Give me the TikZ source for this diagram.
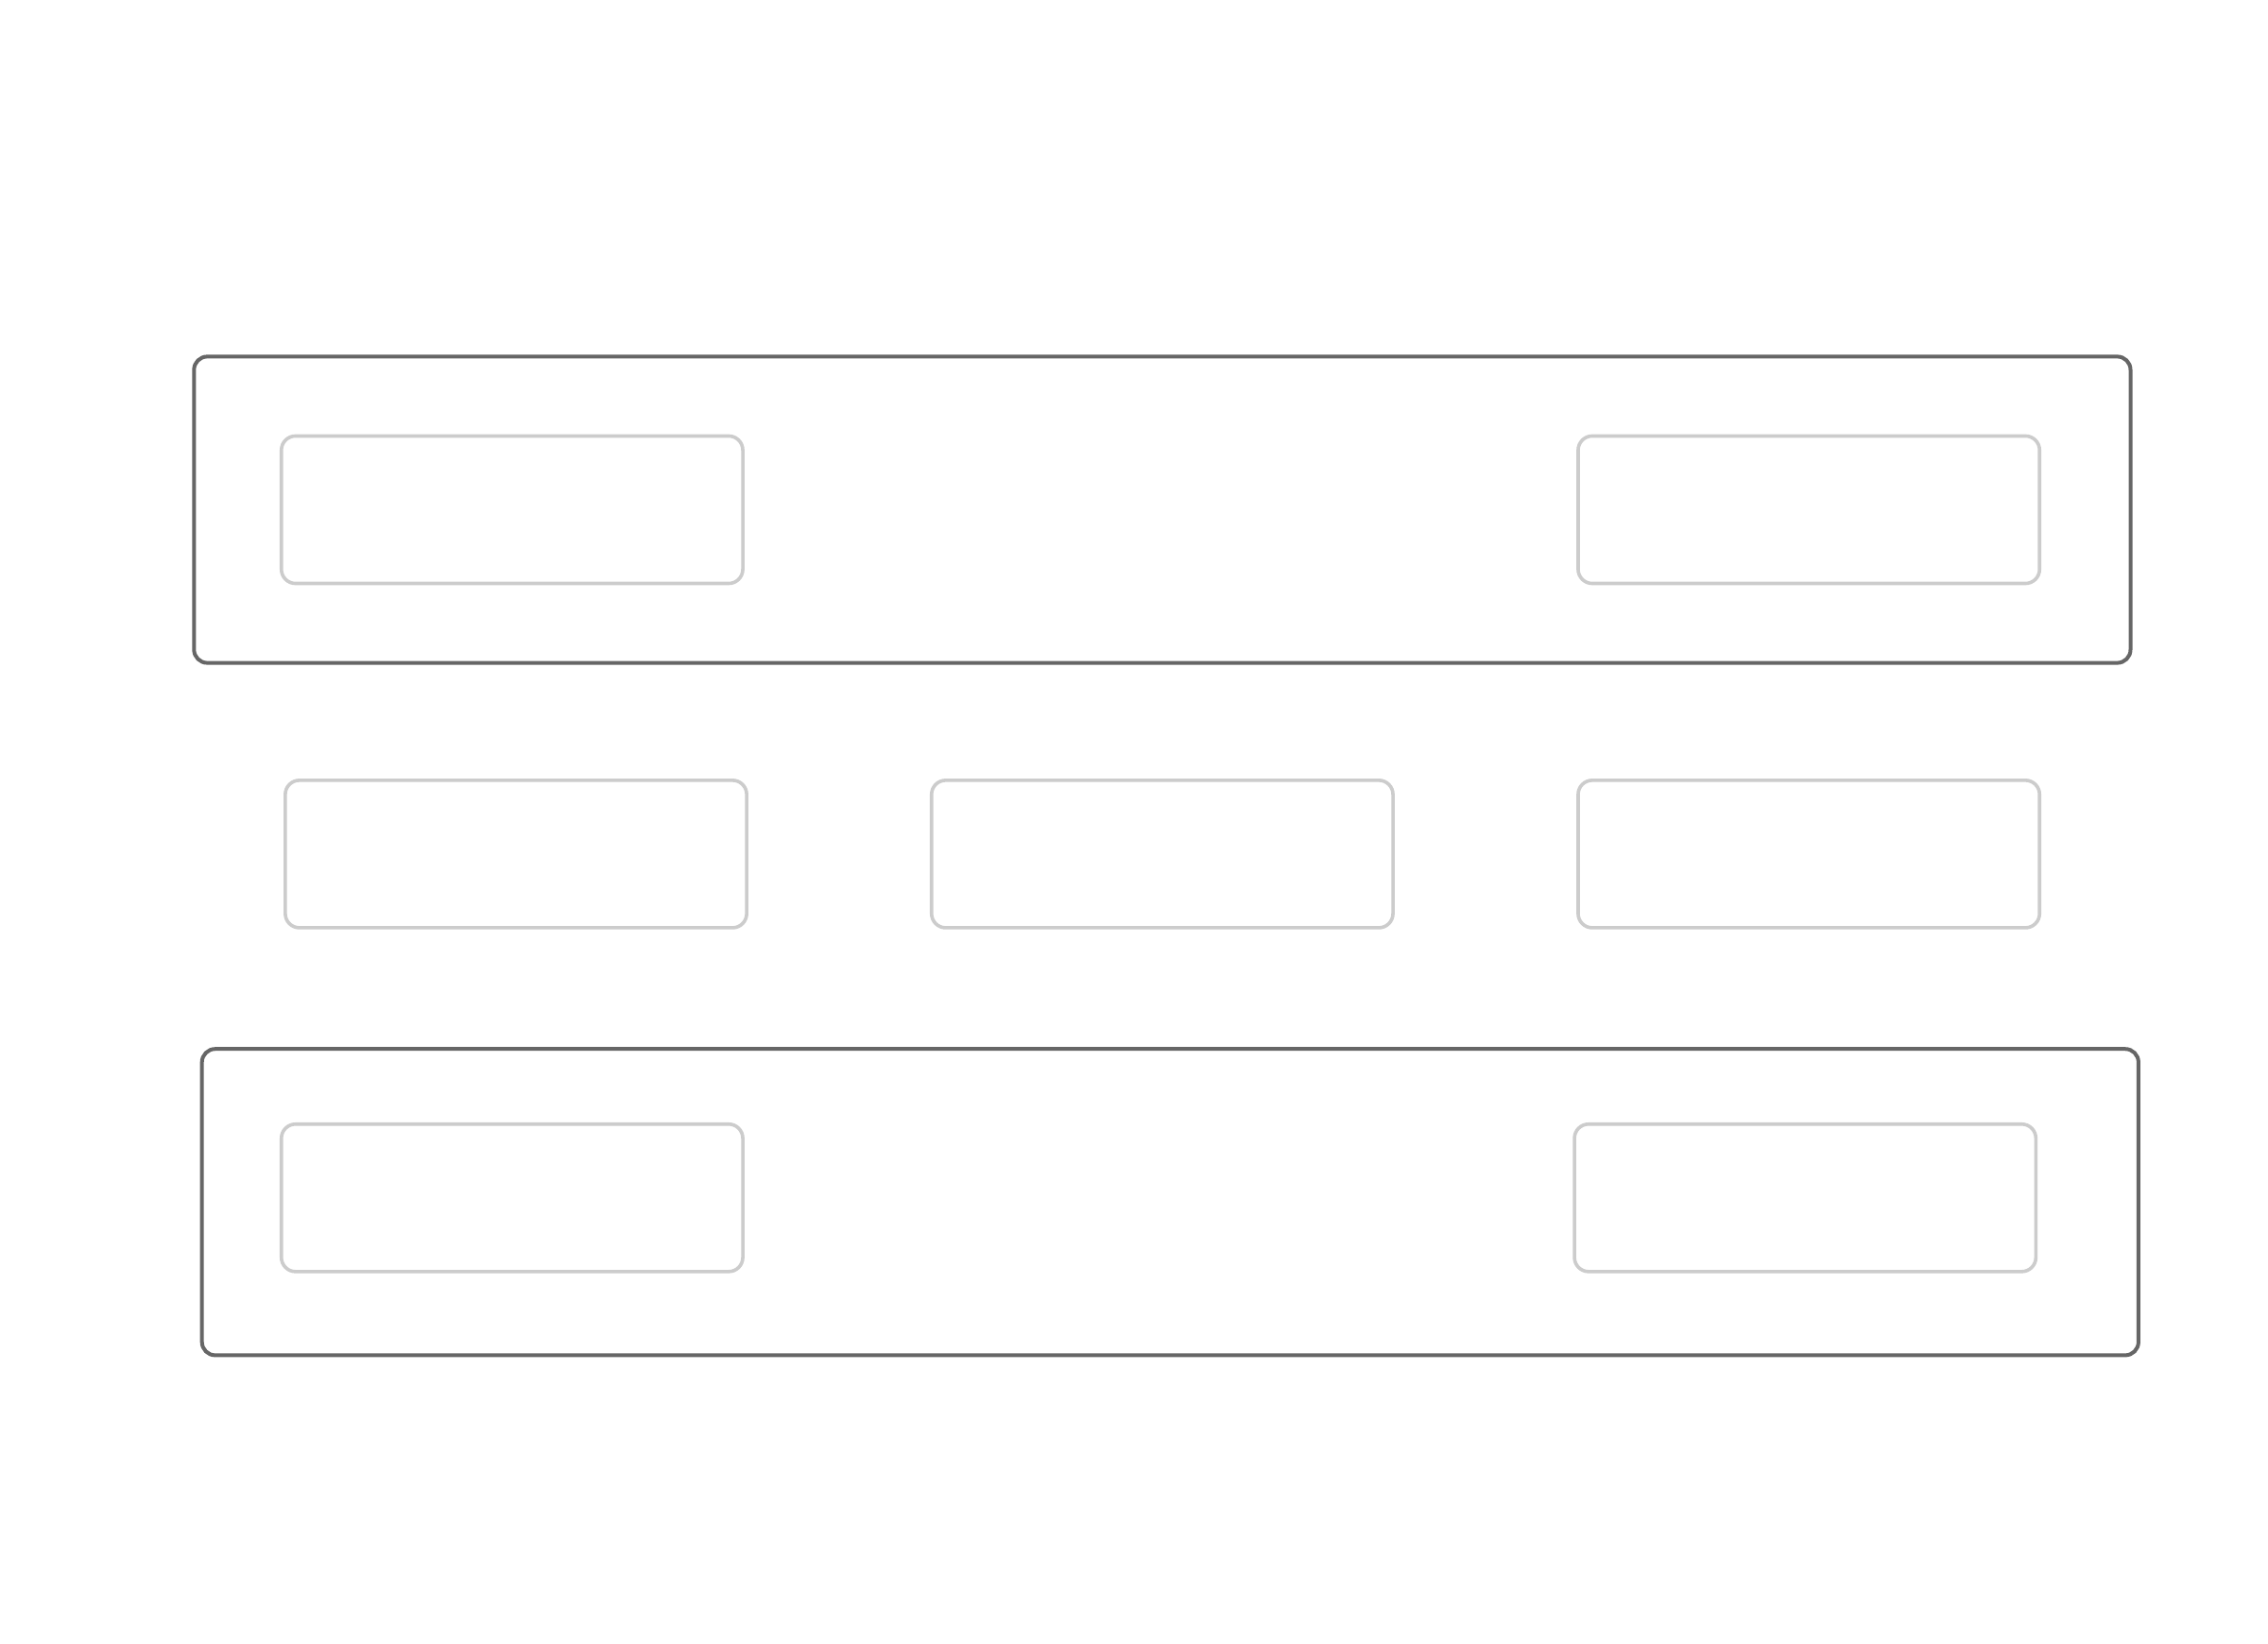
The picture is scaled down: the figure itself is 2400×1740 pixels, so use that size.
\documentclass[tikz,border=0pt]{standalone}
\begin{document}
\begin{tikzpicture}[x=0.01cm,y=-0.01cm,
  outerbox/.style={draw=black!60, line width=0.04cm, rounded corners=0.14cm, rectangle, inner sep=0pt, outer sep=0pt, minimum width=20.48cm, minimum height=3.24cm},
  innerbox/.style={draw=black!20, line width=0.036cm, rounded corners=0.15cm, rectangle, inner sep=0pt, outer sep=0pt, minimum width=4.88cm, minimum height=1.56cm}]
\fill[white] (0,0) rectangle (2400,1740);
\useasboundingbox (0,0) rectangle (2400,1740);
\node[outerbox] (top) at (1229.9,539.5) {};
\node[innerbox] (tl) at (541.9,539.5) {};
\node[innerbox] (tr) at (1914.1,539.5) {};
\node[innerbox] (ml) at (546.0,903.9) {};
\node[innerbox] (mc) at (1229.9,903.9) {};
\node[innerbox] (mr) at (1914.1,903.9) {};
\node[outerbox] (bot) at (1238.3,1272.3) {};
\node[innerbox] (bl) at (541.9,1267.8) {};
\node[innerbox] (br) at (1910.2,1267.8) {};
\end{tikzpicture}
\end{document}
